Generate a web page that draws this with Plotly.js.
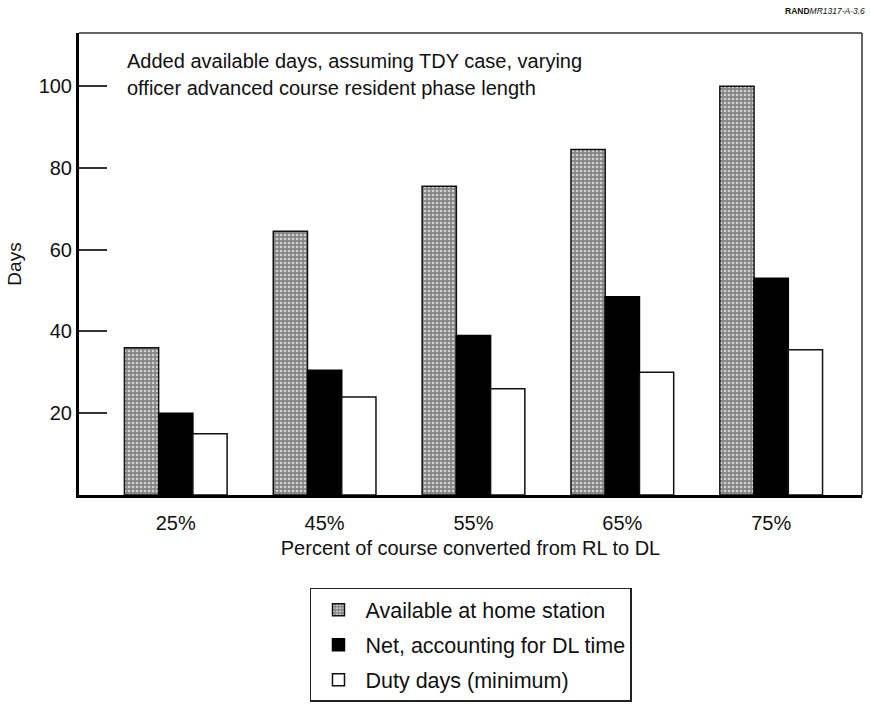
<!DOCTYPE html>
<html>
<head>
<meta charset="utf-8">
<script src="https://cdn.plot.ly/plotly-3.0.1.min.js"></script>
<style>html,body{margin:0;padding:0;background:#fff;}#chart{width:870px;height:711px;}</style>
</head>
<body>
<div id="chart"></div>
<script>
const categories = ['25%', '45%', '55%', '65%', '75%'];
const availableAtHome = [36, 64.5, 75.5, 84.5, 100];
const netForDL = [20, 30.5, 39, 48.5, 53];
const dutyDays = [15, 24, 26, 30, 35.5];
const seriesNames = ['Available at home station', 'Net, accounting for DL time', 'Duty days (minimum)'];
const yTicks = [20, 40, 60, 80, 100];

const FONT = 'Liberation Sans, Arial, sans-serif';

const traces = [
  {
    type: 'bar', x: categories, y: availableAtHome, name: seriesNames[0], legendgroup: 'a',
    marker: {
      color: '#858585',
      line: {color: '#111', width: 1.5},
      pattern: {shape: '.', bgcolor: '#858585', fgcolor: '#d0d0d0', size: 4, solidity: 0.35}
    }
  },
  {
    type: 'bar', x: categories, y: netForDL, name: seriesNames[1], legendgroup: 'b',
    marker: {color: '#000', line: {color: '#000', width: 1.5}}
  },
  {
    type: 'bar', x: categories, y: dutyDays, name: seriesNames[2], legendgroup: 'c',
    marker: {color: '#fff', line: {color: '#111', width: 1.5}}
  }
];

const layout = {
  width: 870, height: 711,
  margin: {l: 79, r: 8, t: 33, b: 216, autoexpand: false},
  paper_bgcolor: '#fff', plot_bgcolor: '#fff',
  font: {family: FONT, size: 20, color: '#111'},
  barmode: 'group', bargap: 0.31, bargroupgap: 0,
  showlegend: true,
  legend: {
    x: 0.295, y: -0.201, xanchor: 'left', yanchor: 'top',
    bgcolor: '#fff', bordercolor: '#222', borderwidth: 1.5,
    font: {family: FONT, size: 21.5, color: '#111'},
    itemwidth: 44,
    tracegroupgap: 4, traceorder: 'grouped'
  },
  xaxis: {
    type: 'category',
    range: [-0.65, 4.61],
    showline: true, linecolor: '#000', linewidth: 3,
    ticks: '', showgrid: false, zeroline: false,
    tickfont: {family: FONT, size: 20, color: '#111'},
    ticklabelstandoff: 8,
    title: {text: 'Percent of course converted from RL to DL', font: {family: FONT, size: 20, color: '#111'}, standoff: 8}
  },
  yaxis: {
    range: [0, 113],
    tickvals: yTicks, ticktext: yTicks.map(String),
    showline: true, linecolor: '#000', linewidth: 3,
    ticks: 'inside', ticklen: 28, tickwidth: 2, tickcolor: '#333',
    showgrid: false, zeroline: false,
    tickfont: {family: FONT, size: 20, color: '#111'},
    title: {text: 'Days', font: {family: FONT, size: 19, color: '#111'}, standoff: 12}
  },
  shapes: [
    {type: 'line', xref: 'paper', yref: 'paper', x0: 0, x1: 1, y0: 1, y1: 1, line: {color: '#333', width: 1.5}},
    {type: 'line', xref: 'paper', yref: 'paper', x0: 1, x1: 1, y0: 0, y1: 1, line: {color: '#333', width: 1.5}}
  ],
  annotations: [
    {xref: 'paper', yref: 'paper', x: 0.059, y: 0.94, xanchor: 'left', yanchor: 'middle', showarrow: false, align: 'left',
     text: 'Added available days, assuming TDY case, varying', font: {family: FONT, size: 20, color: '#111'}},
    {xref: 'paper', yref: 'paper', x: 0.059, y: 0.882, xanchor: 'left', yanchor: 'middle', showarrow: false, align: 'left',
     text: 'officer advanced course resident phase length', font: {family: FONT, size: 20, color: '#111'}},
    {xref: 'paper', yref: 'paper', x: 1.007, y: 1.047, xanchor: 'right', yanchor: 'middle', showarrow: false,
     text: '<b>RAND</b><i>MR1317-A-3.6</i>', font: {family: FONT, size: 8.5, color: '#111'}}
  ]
};

Plotly.newPlot('chart', traces, layout, {displayModeBar: false, staticPlot: true});
</script>
</body>
</html>
